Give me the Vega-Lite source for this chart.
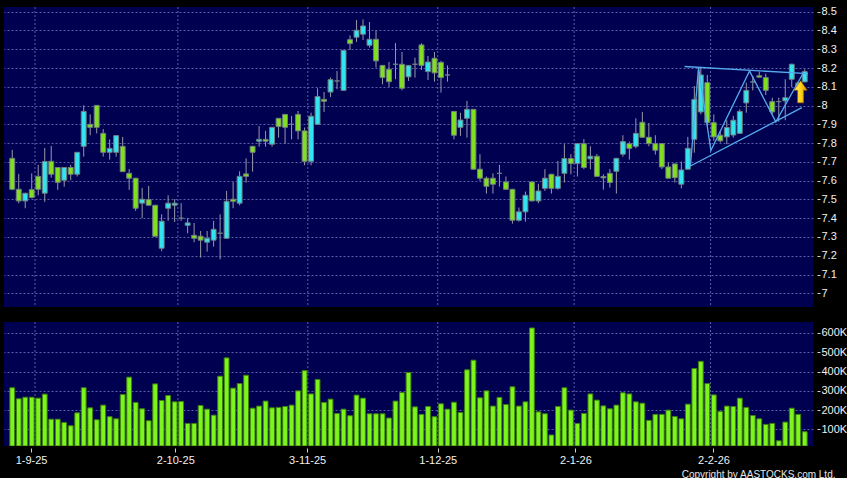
{
  "$schema": "https://vega.github.io/schema/vega-lite/v6.json",
  "background": "#000000",
  "padding": {"left": 4, "top": 5, "right": 0, "bottom": 0},
  "autosize": {"type": "pad"},
  "spacing": 13,
  "config": {
    "view": {"fill": "#000050", "stroke": null},
    "font": "Liberation Sans",
    "axis": {"labelFont": "Liberation Sans", "labelColor": "#f0f0f0", "labelFontSize": 11, "labelOverlap": false, "domain": false, "tickColor": "#d0d0d0", "gridColor": "#5c5ca8", "gridDash": [2, 2], "gridWidth": 1}
  },
  "datasets": {
    "bars": [
      {"i":1,"o":7.719,"h":7.764,"l":7.549,"c":7.554,"v":316000},
      {"i":2,"o":7.554,"h":7.636,"l":7.480,"c":7.492,"v":259000},
      {"i":3,"o":7.492,"h":7.535,"l":7.453,"c":7.533,"v":267000},
      {"i":4,"o":7.552,"h":7.639,"l":7.506,"c":7.510,"v":267000},
      {"i":5,"o":7.623,"h":7.684,"l":7.522,"c":7.554,"v":262000},
      {"i":6,"o":7.533,"h":7.774,"l":7.487,"c":7.702,"v":283000},
      {"i":7,"o":7.703,"h":7.785,"l":7.616,"c":7.634,"v":153000},
      {"i":8,"o":7.670,"h":7.672,"l":7.551,"c":7.591,"v":153000},
      {"i":9,"o":7.602,"h":7.672,"l":7.568,"c":7.670,"v":136000},
      {"i":10,"o":7.670,"h":7.684,"l":7.602,"c":7.634,"v":119000},
      {"i":11,"o":7.634,"h":7.753,"l":7.622,"c":7.751,"v":186000},
      {"i":12,"o":7.783,"h":8.001,"l":7.728,"c":7.969,"v":316000},
      {"i":13,"o":7.900,"h":7.953,"l":7.842,"c":7.884,"v":212000},
      {"i":14,"o":8.001,"h":8.003,"l":7.852,"c":7.884,"v":150000},
      {"i":15,"o":7.852,"h":7.875,"l":7.728,"c":7.751,"v":226000},
      {"i":16,"o":7.751,"h":7.820,"l":7.712,"c":7.772,"v":166000},
      {"i":17,"o":7.751,"h":7.842,"l":7.728,"c":7.840,"v":155000},
      {"i":18,"o":7.783,"h":7.833,"l":7.646,"c":7.648,"v":281000},
      {"i":19,"o":7.639,"h":7.662,"l":7.551,"c":7.613,"v":371000},
      {"i":20,"o":7.613,"h":7.615,"l":7.439,"c":7.453,"v":240000},
      {"i":21,"o":7.480,"h":7.561,"l":7.400,"c":7.501,"v":207000},
      {"i":22,"o":7.499,"h":7.572,"l":7.467,"c":7.469,"v":145000},
      {"i":23,"o":7.469,"h":7.471,"l":7.302,"c":7.304,"v":336000},
      {"i":24,"o":7.240,"h":7.421,"l":7.224,"c":7.384,"v":250000},
      {"i":25,"o":7.453,"h":7.522,"l":7.386,"c":7.480,"v":276000},
      {"i":26,"o":7.469,"h":7.501,"l":7.380,"c":7.480,"v":243000},
      {"i":27,"o":7.400,"h":7.480,"l":7.386,"c":7.400,"v":245000},
      {"i":28,"o":7.362,"h":7.400,"l":7.320,"c":7.375,"v":131000},
      {"i":29,"o":7.309,"h":7.375,"l":7.272,"c":7.293,"v":131000},
      {"i":30,"o":7.304,"h":7.332,"l":7.190,"c":7.283,"v":224000},
      {"i":31,"o":7.272,"h":7.332,"l":7.222,"c":7.293,"v":205000},
      {"i":32,"o":7.283,"h":7.386,"l":7.249,"c":7.341,"v":174000},
      {"i":33,"o":7.320,"h":7.421,"l":7.181,"c":7.320,"v":376000},
      {"i":34,"o":7.293,"h":7.545,"l":7.291,"c":7.490,"v":471000},
      {"i":35,"o":7.501,"h":7.593,"l":7.453,"c":7.490,"v":314000},
      {"i":36,"o":7.480,"h":7.650,"l":7.469,"c":7.623,"v":338000},
      {"i":37,"o":7.636,"h":7.719,"l":7.590,"c":7.623,"v":381000},
      {"i":38,"o":7.783,"h":7.785,"l":7.648,"c":7.751,"v":210000},
      {"i":39,"o":7.810,"h":7.891,"l":7.781,"c":7.820,"v":221000},
      {"i":40,"o":7.820,"h":7.865,"l":7.781,"c":7.810,"v":247000},
      {"i":41,"o":7.794,"h":7.886,"l":7.781,"c":7.884,"v":212000},
      {"i":42,"o":7.932,"h":7.934,"l":7.829,"c":7.888,"v":214000},
      {"i":43,"o":7.953,"h":7.955,"l":7.797,"c":7.884,"v":219000},
      {"i":44,"o":7.900,"h":7.945,"l":7.820,"c":7.900,"v":226000},
      {"i":45,"o":7.953,"h":7.971,"l":7.820,"c":7.865,"v":300000},
      {"i":46,"o":7.865,"h":7.883,"l":7.682,"c":7.703,"v":405000},
      {"i":47,"o":7.703,"h":7.962,"l":7.682,"c":7.943,"v":284000},
      {"i":48,"o":7.900,"h":8.092,"l":7.898,"c":8.048,"v":359000},
      {"i":49,"o":8.033,"h":8.072,"l":7.966,"c":8.023,"v":240000},
      {"i":50,"o":8.072,"h":8.149,"l":8.046,"c":8.138,"v":257000},
      {"i":51,"o":8.131,"h":8.184,"l":8.087,"c":8.131,"v":183000},
      {"i":52,"o":8.081,"h":8.296,"l":8.079,"c":8.294,"v":205000},
      {"i":53,"o":8.351,"h":8.374,"l":8.296,"c":8.330,"v":171000},
      {"i":54,"o":8.364,"h":8.456,"l":8.339,"c":8.401,"v":278000},
      {"i":55,"o":8.380,"h":8.459,"l":8.349,"c":8.424,"v":262000},
      {"i":56,"o":8.321,"h":8.445,"l":8.309,"c":8.353,"v":181000},
      {"i":57,"o":8.353,"h":8.401,"l":8.202,"c":8.238,"v":181000},
      {"i":58,"o":8.214,"h":8.216,"l":8.113,"c":8.149,"v":181000},
      {"i":59,"o":8.193,"h":8.232,"l":8.099,"c":8.127,"v":159000},
      {"i":60,"o":8.220,"h":8.333,"l":8.140,"c":8.220,"v":247000},
      {"i":61,"o":8.220,"h":8.285,"l":8.081,"c":8.092,"v":291000},
      {"i":62,"o":8.153,"h":8.216,"l":8.131,"c":8.214,"v":395000},
      {"i":63,"o":8.220,"h":8.255,"l":8.149,"c":8.220,"v":217000},
      {"i":64,"o":8.323,"h":8.332,"l":8.190,"c":8.214,"v":178000},
      {"i":65,"o":8.181,"h":8.264,"l":8.136,"c":8.232,"v":219000},
      {"i":66,"o":8.252,"h":8.285,"l":8.127,"c":8.174,"v":166000},
      {"i":67,"o":8.230,"h":8.238,"l":8.069,"c":8.149,"v":233000},
      {"i":68,"o":8.163,"h":8.214,"l":8.127,"c":8.163,"v":205000},
      {"i":69,"o":7.969,"h":7.971,"l":7.820,"c":7.842,"v":241000},
      {"i":70,"o":7.884,"h":7.962,"l":7.838,"c":7.923,"v":188000},
      {"i":71,"o":7.932,"h":8.025,"l":7.829,"c":7.980,"v":409000},
      {"i":72,"o":7.980,"h":7.982,"l":7.659,"c":7.661,"v":459000},
      {"i":73,"o":7.661,"h":7.741,"l":7.599,"c":7.613,"v":264000},
      {"i":74,"o":7.613,"h":7.622,"l":7.531,"c":7.570,"v":300000},
      {"i":75,"o":7.613,"h":7.639,"l":7.531,"c":7.581,"v":221000},
      {"i":76,"o":7.639,"h":7.684,"l":7.568,"c":7.639,"v":266000},
      {"i":77,"o":7.593,"h":7.622,"l":7.552,"c":7.554,"v":229000},
      {"i":78,"o":7.554,"h":7.556,"l":7.371,"c":7.389,"v":321000},
      {"i":79,"o":7.389,"h":7.457,"l":7.382,"c":7.434,"v":221000},
      {"i":80,"o":7.434,"h":7.542,"l":7.382,"c":7.522,"v":243000},
      {"i":81,"o":7.593,"h":7.595,"l":7.490,"c":7.492,"v":626000},
      {"i":82,"o":7.492,"h":7.583,"l":7.480,"c":7.545,"v":191000},
      {"i":83,"o":7.559,"h":7.661,"l":7.545,"c":7.613,"v":181000},
      {"i":84,"o":7.634,"h":7.636,"l":7.531,"c":7.559,"v":71000},
      {"i":85,"o":7.559,"h":7.705,"l":7.552,"c":7.623,"v":219000},
      {"i":86,"o":7.639,"h":7.794,"l":7.590,"c":7.718,"v":316000},
      {"i":87,"o":7.718,"h":7.741,"l":7.634,"c":7.691,"v":200000},
      {"i":88,"o":7.691,"h":7.799,"l":7.622,"c":7.797,"v":131000},
      {"i":89,"o":7.797,"h":7.822,"l":7.661,"c":7.670,"v":183000},
      {"i":90,"o":7.716,"h":7.783,"l":7.661,"c":7.730,"v":284000},
      {"i":91,"o":7.730,"h":7.741,"l":7.621,"c":7.623,"v":252000},
      {"i":92,"o":7.622,"h":7.634,"l":7.552,"c":7.615,"v":222000},
      {"i":93,"o":7.639,"h":7.661,"l":7.563,"c":7.590,"v":207000},
      {"i":94,"o":7.650,"h":7.721,"l":7.531,"c":7.719,"v":226000},
      {"i":95,"o":7.741,"h":7.842,"l":7.728,"c":7.808,"v":290000},
      {"i":96,"o":7.797,"h":7.808,"l":7.712,"c":7.772,"v":284000},
      {"i":97,"o":7.783,"h":7.932,"l":7.772,"c":7.852,"v":243000},
      {"i":98,"o":7.911,"h":7.966,"l":7.829,"c":7.831,"v":236000},
      {"i":99,"o":7.831,"h":7.907,"l":7.783,"c":7.797,"v":147000},
      {"i":100,"o":7.797,"h":7.842,"l":7.739,"c":7.762,"v":178000},
      {"i":101,"o":7.797,"h":7.799,"l":7.661,"c":7.673,"v":178000},
      {"i":102,"o":7.673,"h":7.696,"l":7.611,"c":7.613,"v":200000},
      {"i":103,"o":7.689,"h":7.691,"l":7.590,"c":7.616,"v":167000},
      {"i":104,"o":7.581,"h":7.702,"l":7.559,"c":7.657,"v":155000},
      {"i":105,"o":7.661,"h":7.833,"l":7.659,"c":7.772,"v":231000},
      {"i":106,"o":7.820,"h":8.104,"l":7.749,"c":8.033,"v":416000},
      {"i":107,"o":7.966,"h":8.202,"l":7.953,"c":8.163,"v":453000},
      {"i":108,"o":8.122,"h":8.163,"l":7.891,"c":7.909,"v":338000},
      {"i":109,"o":7.909,"h":7.953,"l":7.812,"c":7.833,"v":279000},
      {"i":110,"o":7.842,"h":7.865,"l":7.803,"c":7.812,"v":193000},
      {"i":111,"o":7.833,"h":7.922,"l":7.794,"c":7.883,"v":221000},
      {"i":112,"o":7.843,"h":7.945,"l":7.829,"c":7.922,"v":219000},
      {"i":113,"o":7.852,"h":7.980,"l":7.850,"c":7.969,"v":262000},
      {"i":114,"o":8.014,"h":8.122,"l":7.962,"c":8.081,"v":214000},
      {"i":115,"o":8.126,"h":8.158,"l":8.081,"c":8.126,"v":172000},
      {"i":116,"o":8.159,"h":8.181,"l":8.149,"c":8.151,"v":155000},
      {"i":117,"o":8.149,"h":8.170,"l":8.056,"c":8.081,"v":126000},
      {"i":118,"o":8.021,"h":8.042,"l":7.953,"c":7.966,"v":131000},
      {"i":119,"o":8.021,"h":8.042,"l":7.914,"c":8.021,"v":41000},
      {"i":120,"o":8.025,"h":8.140,"l":7.922,"c":8.042,"v":138000},
      {"i":121,"o":8.140,"h":8.223,"l":8.099,"c":8.220,"v":210000},
      {"i":122,"o":8.120,"h":8.130,"l":8.090,"c":8.100,"v":178000},
      {"i":123,"o":8.126,"h":8.193,"l":8.124,"c":8.181,"v":88000}
    ],
    "xgrid": [{"x":4.5},{"x":26.5},{"x":46.5},{"x":66.5},{"x":87.5},{"x":108.5}],
    "trend": [
      {"line":"upper","n":1,"x":104.5,"p":8.208},
      {"line":"upper","n":2,"x":123.5,"p":8.170},
      {"line":"lower","n":1,"x":105.4,"p":7.678},
      {"line":"lower","n":2,"x":122.55,"p":7.989},
      {"line":"zigzag","n":1,"x":105.4,"p":7.678},
      {"line":"zigzag","n":2,"x":106.65,"p":8.202},
      {"line":"zigzag","n":3,"x":108.55,"p":7.760},
      {"line":"zigzag","n":4,"x":114.5,"p":8.184},
      {"line":"zigzag","n":5,"x":118.55,"p":7.913},
      {"line":"zigzag","n":6,"x":122.75,"p":8.172}
    ],
    "signal": [{"x":122.36,"p":8.073}]
  },
  "vconcat": [
    {
      "width": 809,
      "height": 300,
      "layer": [
        {
          "data": {"name": "xgrid"},
          "mark": {"type": "rule", "color": "#5c5ca8", "strokeDash": [2, 2], "strokeWidth": 1},
          "encoding": {
            "x": {"field": "x", "type": "quantitative", "scale": {"domain": [0.5, 123.5], "nice": false, "zero": false}, "axis": null}
          }
        },
        {
          "data": {"name": "bars"},
          "mark": {"type": "rule", "color": "#9898a8", "strokeWidth": 1},
          "encoding": {
            "x": {"field": "i", "type": "quantitative", "axis": null},
            "y": {"field": "l", "type": "quantitative", "scale": {"domain": [6.927, 8.525], "nice": false, "zero": false},
                  "axis": {"orient": "right", "title": null, "values": [7, 7.1, 7.2, 7.3, 7.4, 7.5, 7.6, 7.7, 7.8, 7.9, 8, 8.1, 8.2, 8.3, 8.4, 8.5], "tickCount": 40, "format": "~g", "labelOverlap": false, "grid": true, "ticks": true, "tickSize": 3, "offset": 4, "labelPadding": 1}},
            "y2": {"field": "h"}
          }
        },
        {
          "data": {"name": "bars"},
          "mark": {"type": "bar", "size": 4.9, "stroke": "#6f7f7f", "strokeWidth": 1},
          "encoding": {
            "x": {"field": "i", "type": "quantitative", "axis": null},
            "y": {"field": "o", "type": "quantitative"},
            "y2": {"field": "c"},
            "fill": {"condition": [{"test": "datum.c > datum.o", "value": "#33E4F0"}, {"test": "datum.c < datum.o", "value": "#80E020"}], "value": "#8a8a8a"}
          }
        },
        {
          "data": {"name": "trend"},
          "mark": {"type": "line", "color": "#55AAEE", "strokeWidth": 1.3},
          "encoding": {
            "x": {"field": "x", "type": "quantitative", "axis": null},
            "y": {"field": "p", "type": "quantitative"},
            "detail": {"field": "line"},
            "order": {"field": "n"}
          }
        },
        {
          "data": {"name": "signal"},
          "mark": {"type": "point", "shape": "M0,-1L0.6,-0.15L0.27,-0.15L0.27,1L-0.27,1L-0.27,-0.15L-0.6,-0.15Z", "size": 484, "filled": true, "opacity": 1,
                   "fill": {"gradient": "linear", "x1": 0, "y1": 0, "x2": 1, "y2": 0, "stops": [{"offset": 0, "color": "#FFF27A"}, {"offset": 0.5, "color": "#FFD21A"}, {"offset": 1, "color": "#D88E00"}]},
                   "stroke": "#a06a00", "strokeWidth": 0.6},
          "encoding": {
            "x": {"field": "x", "type": "quantitative", "axis": null},
            "y": {"field": "p", "type": "quantitative"}
          }
        }
      ]
    },
    {
      "width": 809,
      "height": 124,
      "layer": [
        {
          "data": {"name": "xgrid"},
          "mark": {"type": "rule", "color": "#5c5ca8", "strokeDash": [2, 2], "strokeWidth": 1},
          "encoding": {
            "x": {"field": "x", "type": "quantitative", "scale": {"domain": [0.5, 123.5], "nice": false, "zero": false},
                  "axis": {"orient": "bottom", "values": [3.9, 26.1, 46.4, 66.5, 87.7, 108.95], "tickCount": 40,
                           "labelExpr": "datum.value < 10 ? '1-9-25' : datum.value < 30 ? '2-10-25' : datum.value < 50 ? '3-11-25' : datum.value < 70 ? '1-12-25' : datum.value < 90 ? '2-1-26' : '2-2-26'",
                           "labelOverlap": false, "grid": false, "ticks": true, "tickSize": 4, "offset": 2, "labelPadding": 2,
                           "title": "Copyright by AASTOCKS.com Ltd.", "titleFont": "Liberation Sans", "titleFontSize": 10, "titleFontWeight": "normal", "titleColor": "#e6e6e6",
                           "titleX": 831, "titleY": 29, "titleAlign": "right", "titleBaseline": "alphabetic", "titleAnchor": null}}
          }
        },
        {
          "data": {"name": "bars"},
          "mark": {"type": "bar", "size": 4.8, "fill": "#7CF51C", "stroke": "#3F7F10", "strokeWidth": 1, "clip": true},
          "encoding": {
            "x": {"field": "i", "type": "quantitative"},
            "y": {"field": "v", "type": "quantitative", "scale": {"domain": [14000, 657000], "nice": false, "zero": false, "clamp": true},
                  "axis": {"orient": "right", "title": null, "values": [100000, 200000, 300000, 400000, 500000, 600000], "tickCount": 40, "labelExpr": "(datum.value / 1000) + 'K'", "labelOverlap": false, "grid": true, "ticks": true, "tickSize": 3, "offset": 4, "labelPadding": 1}}
          }
        }
      ]
    }
  ]
}
